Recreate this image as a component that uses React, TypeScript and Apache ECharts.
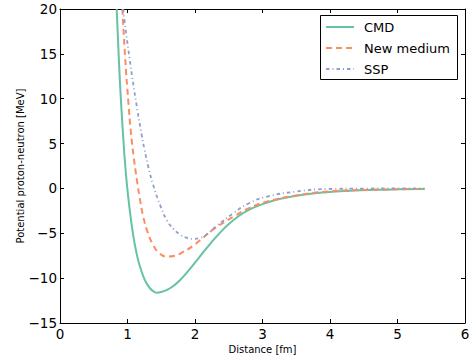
import React, { useEffect, useRef } from "react";
import * as echarts from "echarts";

const xTicks = [0, 1, 2, 3, 4, 5, 6];
const yTicks = [-15, -10, -5, 0, 5, 10, 15, 20];

const cmdX = [0.84, 0.87, 0.904, 0.953, 0.99, 1.03, 1.08, 1.136, 1.18, 1.235, 1.28, 1.33, 1.38, 1.43, 1.5, 1.6, 1.7, 1.8, 1.9, 2.0, 2.1, 2.2, 2.3, 2.4, 2.5, 2.6, 2.7, 2.85, 3.06, 3.3, 3.6, 3.95, 4.3, 4.7, 5.0, 5.4];
const cmdY = [20, 14.75, 9.65, 3.87, 0.54, -2.2, -5.0, -7.3, -8.6, -9.8, -10.55, -11.1, -11.45, -11.62, -11.55, -11.25, -10.75, -10.05, -9.2, -8.27, -7.32, -6.4, -5.52, -4.7, -3.98, -3.35, -2.82, -2.2, -1.6, -1.1, -0.7, -0.42, -0.26, -0.15, -0.1, -0.06];

const newX = [0.925, 0.963, 1.012, 1.05, 1.09, 1.14, 1.18, 1.235, 1.3, 1.38, 1.47, 1.58, 1.7, 1.83, 1.97, 2.12, 2.3, 2.57, 2.8, 3.06, 3.5, 4.0, 4.5, 5.0, 5.4];
const newY = [20, 14.85, 9.67, 6.3, 3.6, 0.9, -1.0, -3.2, -4.9, -6.3, -7.2, -7.6, -7.5, -7.05, -6.4, -5.5, -4.4, -3.15, -2.2, -1.48, -0.78, -0.32, -0.17, -0.09, -0.05];

const sspX = [0.935, 0.98, 1.027, 1.08, 1.136, 1.21, 1.25, 1.31, 1.38, 1.48, 1.58, 1.68, 1.78, 1.88, 1.98, 2.08, 2.17, 2.32, 2.57, 2.8, 3.06, 3.5, 3.95, 4.5, 5.0, 5.4];
const sspY = [20, 17.3, 14.67, 11.91, 9.22, 5.96, 4.4, 2.36, 0.4, -1.8, -3.5, -4.5, -5.15, -5.5, -5.62, -5.5, -5.15, -4.2, -2.75, -1.65, -0.93, -0.35, -0.07, -0.02, 0, 0];

const seriesNames = ["CMD", "New medium", "SSP"];
const seriesColors = ["#66c2a5", "#fc8d62", "#8da0cb"];
const seriesDash: (number[] | "solid")[] = ["solid", [6, 4], [3.5, 3, 1, 3]];
const seriesWidth = [2, 2, 1.8];

const FONT = "DejaVu Sans";

const fmt = (v: number) => (v < 0 ? "\u2212" + Math.abs(v) : String(v));

export default function App() {
  const ref = useRef<HTMLDivElement>(null);
  useEffect(() => {
    if (!ref.current) return;
    const chart = echarts.init(ref.current, null, { renderer: "svg" });
    const zip = (xs: number[], ys: number[]) => xs.map((x, i) => [x, ys[i]]);
    const axisCommon = {
      type: "value" as const,
      axisLine: { show: true, onZero: false, lineStyle: { color: "#000", width: 1 } },
      axisTick: { show: true, inside: true, length: 4, lineStyle: { color: "#000", width: 1 } },
      splitLine: { show: false },
    };
    const data = [zip(cmdX, cmdY), zip(newX, newY), zip(sspX, sspY)];

    const legendRows = [27, 48, 69];
    const legendEls: any[] = [
      {
        type: "rect",
        shape: { x: 320.5, y: 15.5, width: 137, height: 64 },
        style: { fill: "#fff", stroke: "#000", lineWidth: 1 },
        z: 100,
      },
    ];
    seriesNames.forEach((name, i) => {
      legendEls.push({
        type: "line",
        shape: { x1: 326, y1: legendRows[i], x2: 354, y2: legendRows[i] },
        style: {
          stroke: seriesColors[i],
          lineWidth: seriesWidth[i],
          lineDash: seriesDash[i] === "solid" ? null : seriesDash[i],
        },
        z: 101,
      });
      legendEls.push({
        type: "text",
        x: 364,
        y: legendRows[i],
        style: {
          text: name,
          fill: "#000",
          font: `13px '${FONT}'`,
          textVerticalAlign: "middle",
          verticalAlign: "middle",
        },
        z: 101,
      });
    });

    chart.setOption({
      animation: false,
      backgroundColor: "#fff",
      grid: { left: 60, right: 4, top: 9, bottom: 33, containLabel: false, outerBoundsMode: "none" },
      xAxis: [
        {
          ...axisCommon,
          min: xTicks[0],
          max: xTicks[xTicks.length - 1],
          interval: 1,
          position: "bottom",
          axisLabel: { color: "#000", fontSize: 13.5, fontFamily: FONT, margin: 4, formatter: fmt },
          name: "Distance [fm]",
          nameLocation: "middle",
          nameGap: 21,
          nameMoveOverlap: false,
          nameTextStyle: { fontSize: 10, color: "#000", fontFamily: FONT },
        },
        {
          ...axisCommon,
          min: xTicks[0],
          max: xTicks[xTicks.length - 1],
          interval: 1,
          position: "top",
          axisLabel: { show: false },
        },
      ],
      yAxis: [
        {
          ...axisCommon,
          min: yTicks[0],
          max: yTicks[yTicks.length - 1],
          interval: 5,
          position: "left",
          axisLabel: { color: "#000", fontSize: 13.5, fontFamily: FONT, margin: 3, formatter: fmt },
          name: "Potential proton-neutron [MeV]",
          nameLocation: "middle",
          nameGap: 35,
          nameMoveOverlap: false,
          nameTextStyle: { fontSize: 10, color: "#000", fontFamily: FONT },
        },
        {
          ...axisCommon,
          min: yTicks[0],
          max: yTicks[yTicks.length - 1],
          interval: 5,
          position: "right",
          axisLabel: { show: false },
        },
      ],
      series: seriesNames.map((name, i) => ({
        name,
        type: "line",
        data: data[i],
        smooth: 0.5,
        symbol: "none",
        clip: true,
        color: seriesColors[i],
        lineStyle: { color: seriesColors[i], width: seriesWidth[i], type: seriesDash[i] },
      })),
      graphic: legendEls,
    });
    return () => chart.dispose();
  }, []);
  return (
    <div
      ref={ref}
      style={{ position: "fixed", left: 0, top: 0, width: 469, height: 356, background: "#fff" }}
    />
  );
}
